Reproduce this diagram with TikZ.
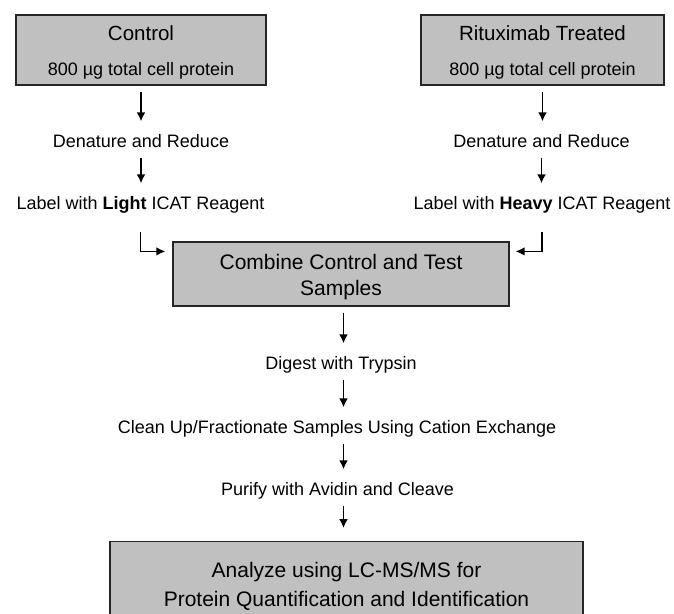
\documentclass[tikz,border=0pt]{standalone}
\usepackage{fontspec}
\setmainfont{Liberation Sans}
\usetikzlibrary{arrows.meta,calc,positioning}
\definecolor{boxgray}{RGB}{192,192,192}
\tikzset{
  stagebox/.style={draw=black!85, line width=1.2pt, fill=boxgray, align=center, inner sep=0pt},
  steptext/.style={font=\fontsize{18}{21}\selectfont, inner sep=0pt, text height=13pt, text depth=4pt},
  flow/.style={-{Latex[length=9pt,width=9pt]}, line width=1.7pt, shorten <=6pt, shorten >=13pt},
  elbow/.style={-{Latex[length=9pt,width=8.5pt]}, line width=1.5pt}
}

\begin{document}
\begin{tikzpicture}[x=1pt,y=-1pt]
\useasboundingbox (0,0) rectangle (674,613);

% Draw sample boxes.
\node[stagebox, minimum width=250pt, minimum height=70pt, font=\fontsize{18}{35}\selectfont] (ctrl) at (141,50)
  {{\fontsize{20.5}{35}\selectfont\rule{0pt}{20pt}Control}\\ 800 µg total cell protein};
\node[stagebox, minimum width=243pt, minimum height=70pt, font=\fontsize{18}{35}\selectfont] (rtx) at (542.5,50)
  {{\fontsize{20.5}{35}\selectfont\rule{0pt}{20pt}Rituximab Treated}\\ 800 µg total cell protein};

% Draw labelling steps.
\node[steptext] (denL) at (141,143) {Denature and Reduce};
\node[steptext] (denR) at (541.5,143) {Denature and Reduce};
\node[steptext] (labL) at (140.5,205) {Label with \textbf{Light} ICAT Reagent};
\node[steptext] (labR) at (542,205) {Label with \textbf{Heavy} ICAT Reagent};

% Combine and process.
\node[stagebox, minimum width=336pt, minimum height=64pt, font=\fontsize{21}{26}\selectfont] (combine) at (341,274)
  {\rule{0pt}{21.4pt}Combine Control and Test\\ Samples};
\node[steptext] (digest) at (341,365) {Digest with Trypsin};
\node[steptext] (clean) at (337,429) {Clean Up/Fractionate Samples Using Cation Exchange};
\node[steptext] (purify) at (337.5,491) {Purify with Avidin and Cleave};
\node[stagebox, anchor=north, minimum width=473pt, inner ysep=20pt, font=\fontsize{21}{29}\selectfont] (analyze) at (346.5,541)
  {\rule{0pt}{15.5pt}Analyze using LC-MS/MS for\\ Protein Quantification and Identification};

% Draw arrows.
\coordinate (spine) at (343.5,0);
\foreach \a/\b in {ctrl/denL, denL/labL, rtx/denR, denR/labR}
\draw[flow] (\a.south) -- (\a.south |- \b.north);
\foreach \a/\b in {combine/digest, digest/clean, clean/purify, purify/analyze}
\draw[flow] (spine |- \a.south) -- (spine |- \b.north);

\draw[elbow] ([yshift=-18.5pt]labL.south) |- ([xshift=-7pt,yshift=-10pt]combine.north west);
\draw[elbow] ([yshift=-18.5pt]labR.south) |- ([xshift=6pt,yshift=-10pt]combine.north east);
\end{tikzpicture}
\end{document}
